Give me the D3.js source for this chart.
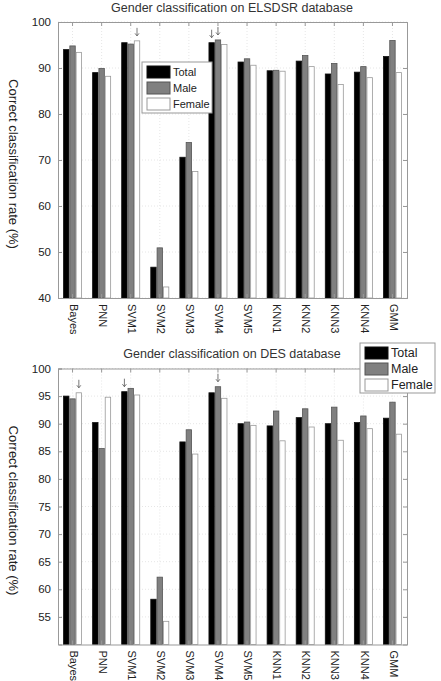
<!DOCTYPE html>
<html>
<head>
  <style>
    body, html { margin: 0; padding: 0; background: #fff; }
    svg { display: block; font-family: Arial, "Liberation Sans", sans-serif; }
  </style>
</head>
<body>
  <svg id="svg" width="441" height="681"></svg>

  <script src="https://d3js.org/d3.v7.min.js"></script>
  <script>
    const methods = ['Bayes', 'PNN', 'SVM1', 'SVM2', 'SVM3', 'SVM4', 'SVM5', 'KNN1', 'KNN2', 'KNN3', 'KNN4', 'GMM']
    const seriesNames = ['Total', 'Male', 'Female']

    // ELSDSR database
    const elsdsrTotal = [94.0, 89.0, 95.5, 46.7, 70.6, 95.5, 91.3, 89.4, 91.5, 88.7, 89.1, 92.5]
    const elsdsrMale = [94.8, 89.9, 95.2, 50.9, 73.8, 96.1, 92.0, 89.5, 92.7, 91.0, 90.3, 96.0]
    const elsdsrFemale = [93.4, 88.2, 95.9, 42.4, 67.5, 95.1, 90.6, 89.3, 90.3, 86.4, 87.9, 89.0]
    const elsdsrTicks = [40, 50, 60, 70, 80, 90, 100]
    const elsdsrArrows = [['SVM1', 'Female'], ['SVM4', 'Total'], ['SVM4', 'Male']]

    // DES database
    const desTotal = [95.0, 90.2, 95.8, 58.2, 86.7, 95.6, 90.0, 89.6, 91.1, 90.0, 90.2, 91.0]
    const desMale = [94.5, 85.5, 96.4, 62.2, 88.9, 96.7, 90.3, 92.3, 92.7, 93.0, 91.4, 93.9]
    const desFemale = [95.6, 94.8, 95.2, 54.2, 84.5, 94.6, 89.7, 86.9, 89.4, 87.0, 89.1, 88.1]
    const desTicks = [55, 60, 65, 70, 75, 80, 85, 90, 95, 100]
    const desArrows = [['Bayes', 'Female'], ['SVM1', 'Total'], ['SVM4', 'Male']]

    const fills = { Total: '#000', Male: '#808080', Female: '#fff' }
    const strokes = { Total: '#111', Male: '#555', Female: '#999' }

    const svg = d3.select('#svg')

    function drawChart(cfg) {
      const g = svg.append('g')
      const x = d3.scaleBand().domain(methods).range([58, 407]).padding(0)
      const y = d3.scaleLinear().domain(cfg.domain).range([cfg.bottom, cfg.top])
      const bw = x.bandwidth()
      const off = d3.scaleBand().domain(seriesNames)
        .range([bw * 0.19, bw * 0.81]).paddingInner(0.14)

      // grid
      g.append('g').selectAll('line').data(cfg.ticks).join('line')
        .attr('x1', 58).attr('x2', 407)
        .attr('y1', d => y(d)).attr('y2', d => y(d))
        .attr('stroke', '#e6e6e6').attr('stroke-dasharray', '1,2')
      g.append('g').selectAll('line').data(methods).join('line')
        .attr('x1', d => x(d) + bw / 2).attr('x2', d => x(d) + bw / 2)
        .attr('y1', cfg.top).attr('y2', cfg.bottom)
        .attr('stroke', '#e6e6e6').attr('stroke-dasharray', '1,2')

      // bars
      const rows = []
      methods.forEach((m, i) => {
        cfg.series.forEach((vals, j) => rows.push({ m, s: seriesNames[j], v: vals[i] }))
      })
      g.append('g').selectAll('rect').data(rows).join('rect')
        .attr('x', d => x(d.m) + off(d.s))
        .attr('width', off.bandwidth())
        .attr('y', d => y(d.v))
        .attr('height', d => cfg.bottom - y(d.v))
        .attr('fill', d => fills[d.s])
        .attr('stroke', d => strokes[d.s])
        .attr('stroke-width', 0.8)

      // small down arrows marking the best results
      g.append('g').selectAll('path').data(cfg.arrows).join('path')
        .attr('transform', d => {
          const ax = x(d[0]) + off(d[1]) + off.bandwidth() / 2
          const ay = y(cfg.series[seriesNames.indexOf(d[1])][methods.indexOf(d[0])]) - 5
          return `translate(${ax},${ay})`
        })
        .attr('d', 'M0,-8V0M-2,-2.5L0,0L2,-2.5')
        .attr('fill', 'none').attr('stroke', '#555').attr('stroke-width', 0.8)

      // axes
      const left = g.append('g').attr('transform', 'translate(58,0)')
        .call(d3.axisLeft(y).tickValues(cfg.ticks).tickSize(-4).tickPadding(7))
      const right = g.append('g').attr('transform', 'translate(407,0)')
        .call(d3.axisRight(y).tickValues(cfg.ticks).tickSize(-4).tickFormat(''))
      const bottom = g.append('g').attr('transform', `translate(0,${cfg.bottom})`)
        .call(d3.axisBottom(x).tickSize(-4).tickPadding(6))
      const top = g.append('g').attr('transform', `translate(0,${cfg.top})`)
        .call(d3.axisTop(x).tickSize(-4).tickFormat(''))
      for (const a of [left, right, bottom, top]) {
        a.select('.domain').attr('stroke', '#999')
        a.selectAll('.tick line').attr('stroke', '#999')
        a.selectAll('text').attr('fill', '#222').attr('font-family', 'Arial, "Liberation Sans", sans-serif')
      }
      left.selectAll('text').attr('font-size', 11.5)
      bottom.selectAll('text')
        .attr('font-size', 11)
        .attr('transform', 'rotate(90)')
        .attr('text-anchor', 'start')
        .attr('dy', '0.35em')
        .attr('x', 6).attr('y', -1)

      // title
      g.append('text')
        .attr('x', cfg.titleX).attr('y', cfg.titleY)
        .attr('text-anchor', 'middle').attr('font-size', 12.5).attr('fill', '#333')
        .text(cfg.title)

      // y label
      g.append('text')
        .attr('transform', `translate(9,${(cfg.top + cfg.bottom) / 2 + 4}) rotate(90)`)
        .attr('text-anchor', 'middle').attr('font-size', 13).attr('fill', '#222')
        .text('Correct classification rate (%)')

      // legend
      const L = cfg.legend
      const lg = g.append('g').attr('transform', `translate(${L.x},${L.y})`)
      lg.append('rect').attr('width', L.w).attr('height', L.h)
        .attr('fill', '#fff').attr('stroke', '#999')
      seriesNames.forEach((s, i) => {
        lg.append('rect')
          .attr('x', 5).attr('y', 4 + i * L.row)
          .attr('width', L.sw).attr('height', L.row - 4)
          .attr('fill', fills[s]).attr('stroke', strokes[s])
        lg.append('text')
          .attr('x', L.sw + 8).attr('y', 4 + i * L.row + (L.row - 4) / 2)
          .attr('dy', '0.35em').attr('font-size', L.fs).attr('fill', '#222')
          .text(s)
      })
    }

    drawChart({
      series: [elsdsrTotal, elsdsrMale, elsdsrFemale],
      domain: [40, 100], ticks: elsdsrTicks, top: 22, bottom: 298,
      arrows: elsdsrArrows,
      title: 'Gender classification on ELSDSR database', titleX: 232, titleY: 12,
      legend: { x: 142, y: 62, w: 70, h: 51, row: 16, sw: 23, fs: 11 }
    })

    drawChart({
      series: [desTotal, desMale, desFemale],
      domain: [50, 100], ticks: desTicks, top: 368.5, bottom: 644.5,
      arrows: desArrows,
      title: 'Gender classification on DES database', titleX: 232, titleY: 358,
      legend: { x: 360, y: 343, w: 75, h: 50, row: 16, sw: 23, fs: 12.5 }
    })
  </script>
</body>
</html>
